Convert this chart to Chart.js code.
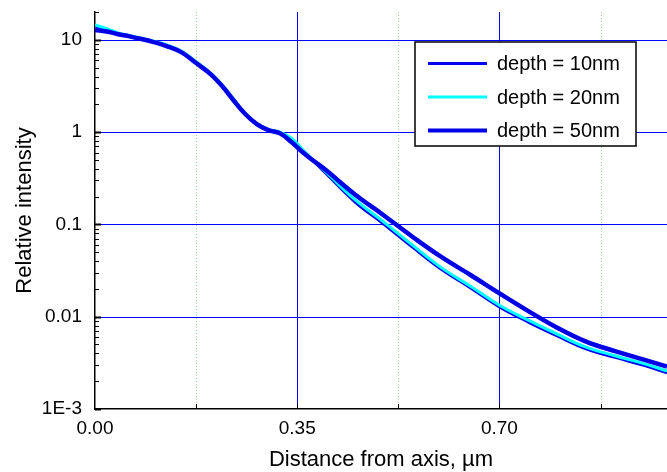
<!DOCTYPE html>
<html>
<head>
<meta charset="utf-8">
<script src="https://cdn.jsdelivr.net/npm/chart.js@4/dist/chart.umd.min.js"></script>
<style>
  html, body { margin: 0; padding: 0; background: #fff; }
  #wrap { width: 667px; height: 472px; }
</style>
</head>
<body>
<div id="wrap"><canvas id="profileChart" width="667" height="472"></canvas></div>
<script>
  // distance from axis, um
  const distance = [0, 0.02, 0.04, 0.06, 0.08, 0.10, 0.125, 0.15, 0.175, 0.20, 0.22, 0.24, 0.26, 0.28, 0.30, 0.32,
    0.34, 0.36, 0.38, 0.40, 0.45, 0.50, 0.55, 0.60, 0.65, 0.70, 0.75, 0.80, 0.85, 0.90, 0.95, 0.99];

  const depth10 = [14.0, 13.0, 11.8, 11.0, 10.3, 9.6, 8.6, 7.4, 5.7, 4.3, 3.2, 2.22, 1.58, 1.23, 1.06, 0.99,
    0.84, 0.63, 0.47, 0.353, 0.174, 0.100, 0.056, 0.0322, 0.0204, 0.0127, 0.0087, 0.00615, 0.00445, 0.0036, 0.00295, 0.00245];
  const depth20 = [14.5, 13.2, 11.9, 11.1, 10.4, 9.7, 8.75, 7.5, 5.8, 4.35, 3.25, 2.27, 1.6, 1.24, 1.07, 1.0,
    0.86, 0.64, 0.48, 0.368, 0.185, 0.106, 0.0593, 0.0338, 0.0214, 0.0133, 0.00916, 0.00647, 0.00468, 0.00378, 0.0031, 0.00258];
  const depth50 = [12.8, 12.3, 11.5, 10.9, 10.2, 9.5, 8.5, 7.3, 5.6, 4.25, 3.15, 2.2, 1.57, 1.22, 1.05, 0.97,
    0.78, 0.6, 0.48, 0.385, 0.211, 0.125, 0.073, 0.0441, 0.0283, 0.0179, 0.0115, 0.0076, 0.00537, 0.00424, 0.00343, 0.00288];

  const seriesLabels = ["depth = 10nm", "depth = 20nm", "depth = 50nm"];
  const xTicks = [0, 0.175, 0.35, 0.525, 0.70, 0.875];
  const xLabels = ["0.00", "", "0.35", "", "0.70", ""];
  const yTicks = [0.001, 0.01, 0.1, 1, 10];
  const yLabels = ["1E-3", "0.01", "0.1", "1", "10"];

  const FONT = "'Liberation Sans', Arial, Helvetica, sans-serif";
  const BLUE = "#0000ff";

  function toPoints(values) {
    return values.map((v, i) => ({ x: distance[i], y: v }));
  }

  function isMajorX(v) {
    return Math.abs(v - 0.35) < 1e-6 || Math.abs(v - 0.70) < 1e-6;
  }

  function vline(ctx, px, top, bottom) {
    ctx.beginPath();
    ctx.moveTo(px, top);
    ctx.lineTo(px, bottom);
    ctx.stroke();
  }

  function hline(ctx, py, left, right) {
    ctx.beginPath();
    ctx.moveTo(left, py);
    ctx.lineTo(right, py);
    ctx.stroke();
  }

  // grid, inward tick marks and the boxed legend
  const decorations = {
    id: "decorations",
    beforeDatasetsDraw(chart) {
      const { ctx, chartArea: a, scales: { x, y } } = chart;
      ctx.save();
      ctx.lineWidth = 1;
      ctx.strokeStyle = "#8fe08f";
      ctx.setLineDash([1, 2]);
      xTicks.forEach((v) => {
        if (v === 0 || isMajorX(v)) return;
        vline(ctx, Math.round(x.getPixelForValue(v)) + 0.5, a.top, a.bottom);
      });
      ctx.setLineDash([]);
      ctx.strokeStyle = BLUE;
      xTicks.forEach((v) => {
        if (!isMajorX(v)) return;
        vline(ctx, Math.round(x.getPixelForValue(v)) + 0.5, a.top, a.bottom);
      });
      yTicks.forEach((v) => {
        if (v <= y.min) return;
        hline(ctx, Math.round(y.getPixelForValue(v)) + 0.5, a.left, a.right);
      });
      ctx.restore();
    },
    afterDatasetsDraw(chart) {
      const { ctx, chartArea: a, scales: { x, y } } = chart;
      ctx.save();
      ctx.strokeStyle = "#000";
      // y minor + major ticks
      for (let d = 0.001; d < 100; d *= 10) {
        for (let k = 1; k <= 9; k++) {
          const v = k * d;
          if (v < y.min * 0.999 || v > y.max * 1.001) continue;
          const py = Math.round(y.getPixelForValue(v)) + 0.5;
          ctx.lineWidth = k === 1 ? 2 : 1;
          hline(ctx, py, a.left, a.left + (k === 1 ? 6 : 4));
        }
      }
      // x ticks
      ctx.lineWidth = 1;
      xTicks.forEach((v) => {
        if (v === 0) return;
        vline(ctx, Math.round(x.getPixelForValue(v)) + 0.5, a.bottom, a.bottom - 5);
      });

      // legend
      const box = { left: 415, top: 42, width: 221, height: 104 };
      ctx.fillStyle = "#fff";
      ctx.fillRect(box.left, box.top, box.width, box.height);
      ctx.strokeStyle = "#000";
      ctx.lineWidth = 1.5;
      ctx.strokeRect(box.left, box.top, box.width, box.height);
      ctx.font = "20px " + FONT;
      ctx.textBaseline = "middle";
      ctx.textAlign = "left";
      chart.data.datasets.forEach((ds, i) => {
        const ry = box.top + 21.5 + i * 33.5;
        ctx.strokeStyle = ds.borderColor;
        ctx.lineWidth = ds.legendWidth;
        hline(ctx, ry, 428, 487);
        ctx.fillStyle = "#000";
        ctx.fillText(ds.label, 497, ry + 1);
      });
      ctx.restore();
    },
  };

  new Chart(document.getElementById("profileChart"), {
    type: "line",
    data: {
      datasets: [
        { label: seriesLabels[0], data: toPoints(depth10), borderColor: "#0000f0", borderWidth: 2.5, legendWidth: 3, order: 3 },
        { label: seriesLabels[1], data: toPoints(depth20), borderColor: "#00ffff", borderWidth: 3, legendWidth: 3, order: 2 },
        { label: seriesLabels[2], data: toPoints(depth50), borderColor: "#0000e6", borderWidth: 4.5, legendWidth: 4, order: 1 },
      ],
    },
    options: {
      responsive: false,
      animation: false,
      layout: { padding: { top: 12, right: 0, bottom: 0, left: 0 } },
      elements: {
        point: { radius: 0 },
        line: { tension: 0.4, fill: false },
      },
      plugins: { legend: { display: false }, tooltip: { enabled: false } },
      scales: {
        x: {
          type: "linear",
          min: 0,
          max: 0.99,
          afterBuildTicks: (s) => { s.ticks = xTicks.map((v) => ({ value: v })); },
          afterFit: (s) => { s.height = 63; s.paddingLeft = 0; s.paddingRight = 0; },
          ticks: {
            color: "#000",
            font: { family: FONT, size: 19 },
            padding: 8,
            maxRotation: 0,
            autoSkip: false,
            callback: (v) => { const i = xTicks.findIndex((t) => Math.abs(t - v) < 1e-6); return i >= 0 ? xLabels[i] : ""; },
          },
          grid: { display: false, drawTicks: false },
          border: { color: "#000", width: 1.5 },
          title: {
            display: true,
            text: "Distance from axis, µm",
            color: "#000",
            font: { family: FONT, size: 22, lineHeight: 1 },
            padding: { top: 0, bottom: 1 },
          },
        },
        y: {
          type: "logarithmic",
          min: 0.001,
          max: 20,
          afterBuildTicks: (s) => { s.ticks = yTicks.map((v) => ({ value: v })); },
          afterFit: (s) => { s.width = 95; s.paddingTop = 0; s.paddingBottom = 0; },
          ticks: {
            color: "#000",
            font: { family: FONT, size: 19 },
            padding: 13,
            autoSkip: false,
            callback: (v) => { const i = yTicks.findIndex((t) => Math.abs(t - v) / t < 1e-6); return i >= 0 ? yLabels[i] : ""; },
          },
          grid: { display: false, drawTicks: false },
          border: { color: "#000", width: 1.5 },
          title: {
            display: true,
            text: "Relative intensity",
            color: "#000",
            font: { family: FONT, size: 22, lineHeight: 1.2 },
            padding: { top: 12, bottom: 0 },
          },
        },
      },
    },
    plugins: [decorations],
  });
</script>
</body>
</html>
